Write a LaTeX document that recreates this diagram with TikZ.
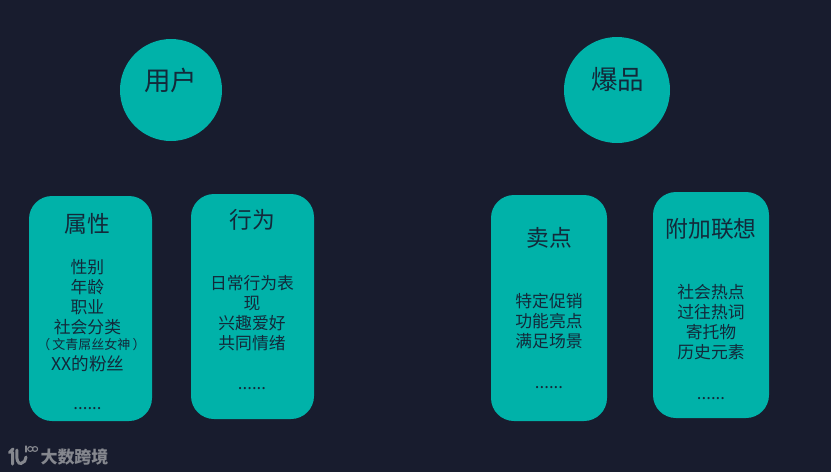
\documentclass[tikz,border=0pt]{standalone}
\usepackage{fontspec}
\setmainfont{Noto Sans CJK SC}
\definecolor{bgc}{HTML}{181C2E}
\definecolor{teal1}{HTML}{00B2A9}
\definecolor{ink}{HTML}{13293A}
\definecolor{logoc}{HTML}{85878E}
\tikzset{
  cardbox/.style={fill=teal1,draw=none,rounded corners=23pt},
  disc/.style={circle,fill=teal1,draw=none,inner sep=0pt},
  titletext/.style={text=ink,font=\fontsize{22.8}{26}\selectfont,inner sep=0pt},
  bigtitle/.style={text=ink,font=\fontsize{26.5}{30}\selectfont,inner sep=0pt},
  bodytext/.style={text=ink,font=\fontsize{16.8}{20}\selectfont,align=center,inner sep=0pt,anchor=north},
  dotstext/.style={text=ink,font=\fontsize{16.8}{20}\selectfont,inner sep=0pt,anchor=base},
  logomark/.style={draw=logoc,line width=3pt,line cap=round},
}
\begin{document}
\begin{tikzpicture}[x=1pt,y=-1pt]
\useasboundingbox (0,0) rectangle (831,472);
\fill[bgc] (0,0) rectangle (831,472);
% circles
\node[disc,minimum size=102pt] (userc) at (171,90) {};
\node[disc,minimum size=106pt] (hotc) at (617,90) {};
\node[bigtitle] (usert) at (170.5,80) {用户};
\node[bigtitle] (hott) at (617.5,79.5) {爆品};
% cards
\path[cardbox] (29,196) rectangle (152,421);
\path[cardbox] (191,194) rectangle (314,419);
\path[cardbox] (491,195) rectangle (607,421);
\path[cardbox] (653,192) rectangle (769,418);
% titles
\node[titletext] (t1) at (87.5,224) {属性};
\node[titletext] (t2) at (252,220) {行为};
\node[titletext] (t3) at (549,238) {卖点};
\node[titletext] (t4) at (711,229) {附加联想};
% bodies
\node[bodytext] (b1) at (87.5,259) {性别\\年龄\\职业\\社会分类};
\node[text=ink,inner sep=0pt,font=\fontsize{13}{16}\selectfont] (b1s) at (91.5,345) {（\,文青屌丝女神\,）};
\node[text=ink,inner sep=0pt,font=\fontsize{17.6}{20}\selectfont] (b1x) at (88,363.5) {XX的粉丝};
\node[bodytext] (b2) at (252,275.5) {日常行为表\\现\\兴趣爱好\\共同情绪};
\node[bodytext] (b3) at (549,293) {特定促销\\功能亮点\\满足场景};
\node[bodytext] (b4) at (711,284) {社会热点\\过往热词\\寄托物\\历史元素};
% ellipses
\node[dotstext] (d1) at (87.5,409) {......};
\node[dotstext] (d2) at (252,389.5) {......};
\node[dotstext] (d3) at (549,388) {......};
\node[dotstext] (d4) at (711,399) {......};
% logo
\draw[logomark] (13,449) -- (9.5,452.5) (12.5,452) -- (12.5,464);
\draw[logomark] (17,450) .. controls (16,460) and (18,464) .. (21,463.5) .. controls (24,463) and (26,460) .. (26,457);
\draw[logomark,line width=1.1pt] (26,446) -- (26,452);
\draw[logomark,line width=1.1pt] (30.3,449) ellipse (2.6 and 2.4);
\draw[logomark,line width=1.1pt] (35,449) ellipse (2.6 and 2.4);
\node[text=logoc,inner sep=0pt,font=\fontsize{17}{20}\selectfont\bfseries] (logot) at (74.5,457) {大数跨境};
\end{tikzpicture}
\end{document}
